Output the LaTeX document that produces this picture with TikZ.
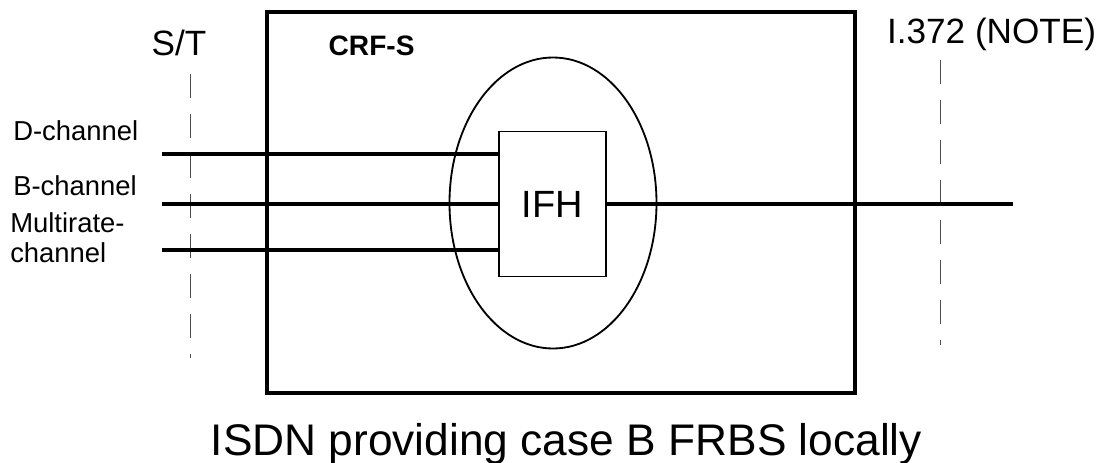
\documentclass[tikz,border=0pt]{standalone}
\usepackage{fontspec}
\setmainfont{Liberation Sans}
\usetikzlibrary{calc,positioning,shapes.geometric}

\begin{document}
\begin{tikzpicture}

    \tikzstyle{channel}=[line width=2.6pt]
    \tikzstyle{refpoint}=[line width=0.5pt,dash pattern=on 0.6cm off 0.4cm,draw=black!70]
    \tikzstyle{chanlabel}=[inner sep=0pt,anchor=base west,font=\fontsize{19.5}{23}\selectfont]
      \coordinate (origo) at (0,0);

\useasboundingbox (origo) rectangle (27.85,-11.575);

\node (CRF) [draw,line width=2.6pt,minimum width=14.7cm,minimum height=9.525cm,outer sep=0pt] at (14.025,-5.0625) {};
\node (zone) [draw,ellipse,line width=1.3pt,minimum width=5.175cm,minimum height=7.275cm,inner sep=0pt] at (13.825,-5.075) {};
\node (IFH) [draw,fill=white,line width=0.9pt,minimum width=2.675cm,minimum height=3.625cm,outer sep=0pt,font=\fontsize{27}{32}\selectfont] at (13.8125,-5.1) {IFH};

\node (CRF_title) [inner sep=0pt,anchor=base,font=\fontsize{20}{24}\selectfont\bfseries] at (9.29,-1.4) {CRF-S};
\node (ST) [inner sep=0pt,anchor=base,font=\fontsize{25}{30}\selectfont] at (4.475,-1.375) {S/T};
\node (I372) [inner sep=0pt,anchor=base,font=\fontsize{25}{30}\selectfont] at (24.79,-1.075) {I.372 (NOTE)};

\node (D_label) [chanlabel] at (0.325,-3.5) {D-channel};
\node (B_label) [chanlabel] at (0.325,-4.875) {B-channel};
\node (M_label) [chanlabel] at (0.25,-5.8) {Multirate-};
\node (M_label2) [chanlabel] at (0.25,-6.55) {channel};

% reference points
\coordinate (ST_top) at (4.75,-1.85);
\coordinate (ST_bot) at (4.75,-8.95);
\coordinate (I372_top) at (23.5,-1.5);
\coordinate (I372_bot) at (23.5,-8.625);
\draw[refpoint] (ST_top) -- (ST_bot);
\draw[refpoint] (I372_top) -- (I372_bot);

% channels
\coordinate (D_in) at (4.05,-3.85);
\coordinate (B_in) at (4.05,-5.1);
\coordinate (M_in) at (4.05,-6.25);
\coordinate (B_out) at (25.325,-5.1);
\draw[channel] (D_in) -- (D_in -| IFH.west);
\draw[channel] (B_in) -- (IFH.west);
\draw[channel] (M_in) -- (M_in -| IFH.west);
\draw[channel] (IFH.east) -- (B_out);

\node (caption) [inner sep=0pt,anchor=base,font=\fontsize{31.5}{38}\selectfont] at (14.16,-11.375) {ISDN providing case B FRBS locally};

\end{tikzpicture}
\end{document}
